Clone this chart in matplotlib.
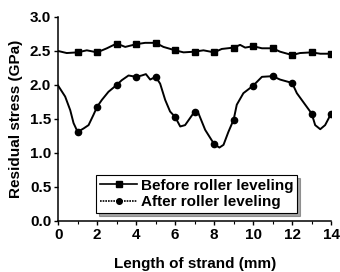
import matplotlib
matplotlib.use("Agg")
import matplotlib.pyplot as plt
from matplotlib.ticker import MultipleLocator

# values
mark_x = [1, 2, 3, 4, 5, 6, 7, 8, 9, 10, 11, 12, 13, 14]
before_mark = [2.48, 2.48, 2.61, 2.60, 2.62, 2.51, 2.49, 2.48, 2.55, 2.57, 2.54, 2.44, 2.48, 2.46]
after_mark = [1.31, 1.68, 2.00, 2.12, 2.12, 1.53, 1.61, 1.13, 1.49, 1.99, 2.13, 2.03, 1.58, 1.58]

before_x = [0.0, 0.44, 1.0, 1.47, 2.0, 2.5, 3.0, 3.44, 4.0, 4.46, 5.0, 5.4, 6.0, 6.43,
            7.0, 7.45, 8.0, 8.39, 9.0, 9.33, 9.59, 10.0, 10.45, 11.0, 11.38, 12.0,
            12.4, 13.0, 13.44, 14.0]
before_y = [2.50, 2.47, 2.48, 2.51, 2.48, 2.54, 2.61, 2.56, 2.60, 2.62, 2.62, 2.56, 2.51, 2.48,
            2.49, 2.51, 2.48, 2.53, 2.55, 2.59, 2.55, 2.57, 2.54, 2.54, 2.49, 2.44,
            2.47, 2.48, 2.46, 2.46]

after_x = [0.0, 0.36, 0.62, 0.79, 1.0, 1.30, 1.56, 1.81, 2.0, 2.24, 2.58, 3.0, 3.26, 3.61,
           4.0, 4.29, 4.5, 4.72, 5.0, 5.23, 5.49, 5.74, 6.0, 6.26, 6.51, 7.0, 7.2, 7.54,
           8.0, 8.27, 8.48, 8.73, 9.0, 9.16, 9.5, 10.0, 10.45, 11.0, 11.38, 12.0, 12.24,
           12.67, 13.0, 13.18, 13.44, 13.69, 14.0]
after_y = [1.99, 1.83, 1.63, 1.44, 1.31, 1.36, 1.41, 1.56, 1.68, 1.78, 1.90, 2.00, 2.07, 2.14,
           2.12, 2.14, 2.16, 2.08, 2.12, 2.02, 1.78, 1.61, 1.53, 1.39, 1.41, 1.61, 1.58, 1.34,
           1.13, 1.08, 1.12, 1.31, 1.49, 1.71, 1.88, 1.99, 2.12, 2.13, 2.08, 2.03, 1.88,
           1.71, 1.58, 1.41, 1.35, 1.41, 1.58]

plt.rcParams['font.family'] = ['Liberation Sans', 'DejaVu Sans']
plt.rcParams['font.weight'] = 'bold'

fig = plt.figure(figsize=(3.4, 2.72), dpi=100)
ax = fig.add_axes([0.171, 0.1875, 0.803, 0.75])

ax.plot(before_x, before_y, color='black', lw=1.4)
ax.plot(mark_x, before_mark, ls='none', marker='s', ms=4.5, color='black')
ax.plot(after_x, after_y, color='black', lw=1.4)
ax.plot(mark_x, after_mark, ls='none', marker='o', ms=4.5, color='black')

# legend proxies
h1, = ax.plot([], [], color='black', lw=1.2, marker='s', ms=4.5)
h2, = ax.plot([], [], color='black', lw=1.2, ls=(0, (1, 0.6)), marker='o', ms=4)
leg = ax.legend([h1, h2], ['Before roller leveling', 'After roller leveling'],
                loc='lower left', bbox_to_anchor=(0.14, 0.04), fontsize=11,
                frameon=True, fancybox=False, shadow=True, handlelength=2.4,
                handletextpad=0.25, borderpad=0.25, labelspacing=0.15,
                borderaxespad=0)
leg.get_frame().set_edgecolor('black')
leg.get_frame().set_linewidth(0.8)

ax.set_xlim(0, 14)
ax.set_ylim(0, 3.0)
ax.xaxis.set_major_locator(MultipleLocator(2))
ax.xaxis.set_minor_locator(MultipleLocator(1))
ax.yaxis.set_major_locator(MultipleLocator(0.5))
ax.yaxis.set_major_formatter(matplotlib.ticker.FormatStrFormatter('%.1f'))
ax.spines['top'].set_visible(False)
ax.spines['right'].set_visible(False)
ax.spines['left'].set_linewidth(1.1)
ax.spines['bottom'].set_linewidth(1.1)
ax.tick_params(axis='both', which='major', direction='out', length=3, width=1, labelsize=11, pad=2)
ax.tick_params(axis='x', which='minor', direction='out', length=2, width=0.8)
for lab in ax.get_xticklabels() + ax.get_yticklabels():
    lab.set_fontweight('bold')

ax.set_xlabel('Length of strand (mm)', fontsize=11, fontweight='bold', labelpad=11)
ax.set_ylabel('Residual stress (GPa)', fontsize=11, fontweight='bold', labelpad=5)

fig.savefig('out.png', dpi=100)
